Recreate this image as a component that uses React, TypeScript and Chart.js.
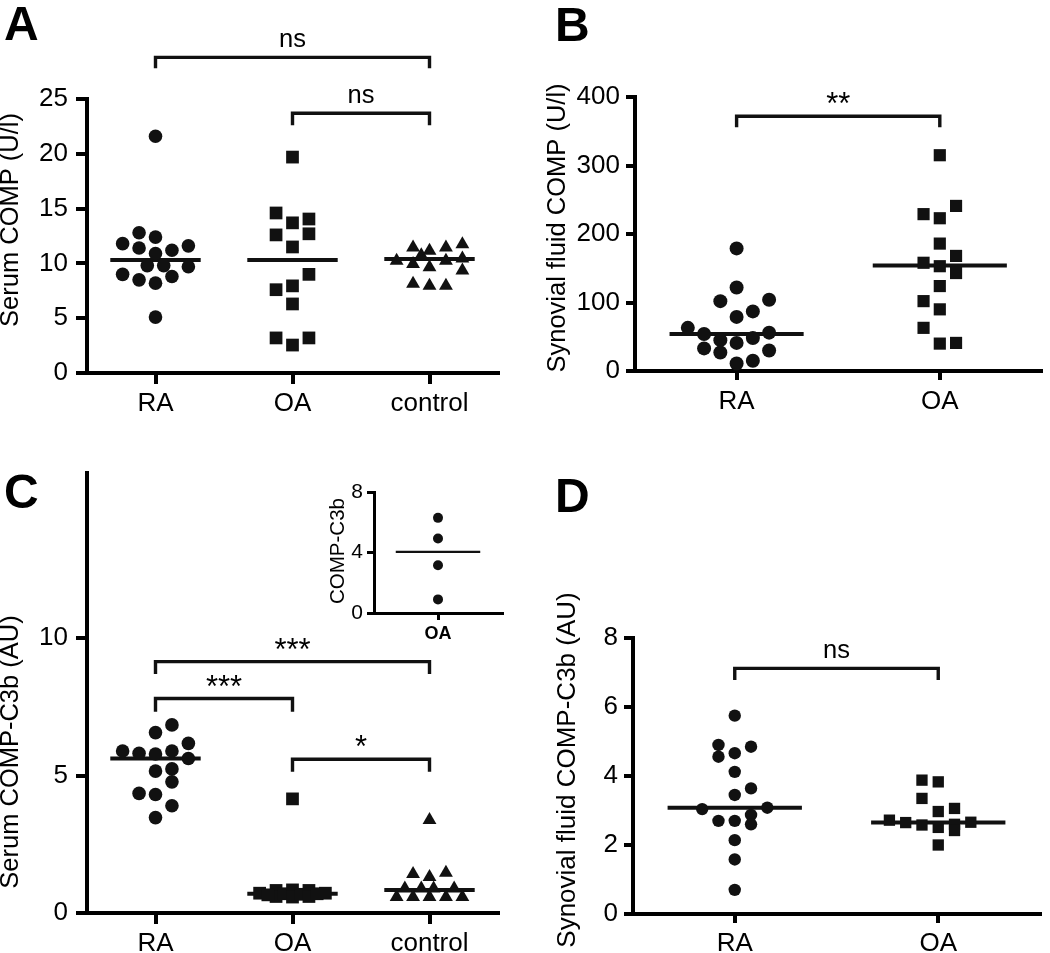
import React, { useEffect, useRef } from 'react';
import { Chart, registerables } from 'chart.js';

Chart.register(...registerables);

const FONT = '"Liberation Sans", Arial, Helvetica, sans-serif';
const INK = '#111';

// ---------------- Panel A: Serum COMP (U/l)
const catsA = ['RA', 'OA', 'control'];
const aRaVals = [21.6, 12.8, 12.4, 11.8, 11.6, 11.4, 11.2, 10.9, 9.8, 9.8, 9.7, 9.0, 8.5, 8.8, 8.2, 5.1];
const aRaSlots = [0, -1, 0, -2, 2, -1, 1, 0, -0.5, 0.5, 2, -2, -1, 1, 0, 0];
const aOaVals = [19.7, 14.6, 14.05, 13.7, 12.6, 12.7, 11.5, 9.0, 7.95, 7.6, 6.3, 3.2, 3.2, 2.55];
const aOaSlots = [0, -1, 1, 0, -1, 1, 0, 1, 0, -1, 0, -1, 1, 0];
const aCtrlVals = [10.25, 11.45, 10.75, 11.15, 9.95, 9.65, 11.45, 10.25, 11.75, 10.45, 9.35, 8.15, 7.95, 7.95];
const aCtrlSlots = [-2, -1, -0.5, 0, -1, 0, 1, 1, 2, 2, 2, -1, 0, 1];
const aMedians = [10.3, 10.3, 10.4];
const aTicks = [0, 5, 10, 15, 20, 25];
const aBrackets = [
  { from: 0, to: 2, y: 28.8, leg: 1.0, label: 'ns' },
  { from: 1, to: 2, y: 23.7, leg: 1.1, label: 'ns' },
];

// ---------------- Panel B: Synovial fluid COMP (U/l)
const catsB = ['RA', 'OA'];
const bRaVals = [179, 122, 102, 104, 87, 79, 63, 54, 56, 45, 41, 48, 33, 30, 27, 15, 11];
const bRaSlots = [0, 0, -1, 2, 1, 0, -3, -2, 2, -1, 0, 1, -2, 2, -1, 1, 0];
const bOaVals = [315, 241, 229, 223, 186, 168, 158, 153, 143, 124, 102, 90, 63, 40, 41];
const bOaSlots = [0, 1, -1, 0, 0, 1, -1, 0, 1, 0, -1, 0, -1, 0, 1];
const bMedians = [54, 154];
const bTicks = [0, 100, 200, 300, 400];
const bBrackets = [{ from: 0, to: 1, y: 372, leg: 16, label: '**' }];

// ---------------- Panel C: Serum COMP-C3b (AU)
const catsC = ['RA', 'OA', 'control'];
const cRaVals = [6.84, 6.56, 6.17, 5.89, 5.81, 5.78, 5.89, 5.62, 5.16, 5.24, 4.77, 4.35, 4.31, 3.9, 3.47];
const cRaSlots = [1, 0, 2, -2, -1, 0, 1, 2, 0, 1, 1, -1, 0, 1, 0];
const cOaVals = [4.15, 0.72, 0.82, 0.6, 0.7, 0.84, 0.58, 0.68, 0.82, 0.6, 0.7, 0.72, 0.66];
const cOaSlots = [0, -2, -1, -1, -0.5, 0, 0, 0.5, 1, 1, 1.5, 2, -1.5];
const cCtrlVals = [3.38, 1.42, 1.31, 1.46, 0.89, 0.89, 0.89, 0.89, 0.58, 0.58, 0.58, 0.58, 0.58];
const cCtrlSlots = [0, -1, 0, 1, -1.5, -0.5, 0.25, 1.5, -2, -1, 0, 1, 2];
const cMedians = [5.62, 0.7, 0.84];
const cTicks = [0, 5, 10];
const cBrackets = [
  { from: 0, to: 2, y: 9.14, leg: 0.45, label: '***' },
  { from: 0, to: 1, y: 7.8, leg: 0.48, label: '***' },
  { from: 1, to: 2, y: 5.59, leg: 0.45, label: '*' },
];

// ---------------- Inset: COMP-C3b, OA
const catsI = ['OA'];
const iOaVals = [6.29, 4.93, 3.16, 0.9];
const iOaSlots = [0, 0, 0, 0];
const iMedians = [4.04];
const iTicks = [0, 4, 8];

// ---------------- Panel D: Synovial fluid COMP-C3b (AU)
const catsD = ['RA', 'OA'];
const dRaVals = [5.75, 4.9, 4.85, 4.56, 4.66, 4.12, 3.64, 3.45, 3.04, 3.08, 2.7, 2.7, 2.87, 2.6, 2.14, 1.58, 0.7];
const dRaSlots = [0, -1, 1, -1, 0, 0, 1, 0, -2, 2, -1, 0, 1, 1, 0, 0, 0];
const dOaVals = [3.88, 3.83, 3.35, 3.06, 2.97, 2.72, 2.65, 2.58, 2.51, 2.6, 2.42, 2.66, 2.0];
const dOaSlots = [-1, 0, -1, 1, 0, -3, -2, -1, 0, 1, 1, 2, 0];
const dMedians = [3.08, 2.65];
const dTicks = [0, 2, 4, 6, 8];
const dBrackets = [{ from: 0, to: 1, y: 7.12, leg: 0.34, label: 'ns' }];

type Shape = 'circle' | 'rect' | 'triangle';
type Group = { cat: number; vals: number[]; slots: number[]; style: Shape; median: number };
type Bracket = { from: number; to: number; y: number; leg: number; label: string };
type Spec = {
  cats: string[];
  groups: Group[];
  brackets: Bracket[];
  yMax: number;
  yTicks: number[];
  area: [number, number, number, number];
  step: number;
  radius: Record<Shape, number>;
  tickLen: number;
  yTickPad: number;
  xTickPad: number;
  axisW: number;
  medianW: number;
  bracketW: number;
  tickFont: number;
  xTickFont: number;
  xTickBold?: boolean;
  title: string;
  titleX: number;
  titleY: number;
  titleFont: number;
  letter?: string;
  letterX?: number;
  letterY?: number;
};

const SPECS: Spec[] = [
  {
    cats: catsA,
    groups: [
      { cat: 0, vals: aRaVals, slots: aRaSlots, style: 'circle', median: aMedians[0] },
      { cat: 1, vals: aOaVals, slots: aOaSlots, style: 'rect', median: aMedians[1] },
      { cat: 2, vals: aCtrlVals, slots: aCtrlSlots, style: 'triangle', median: aMedians[2] },
    ],
    brackets: aBrackets,
    yMax: 25,
    yTicks: aTicks,
    area: [87, 99, 498, 373],
    step: 0.12,
    radius: { circle: 6.8, rect: 9, triangle: 8 },
    tickLen: 11, yTickPad: 8, xTickPad: 4,
    axisW: 4, medianW: 4, bracketW: 3.4,
    tickFont: 26, xTickFont: 26,
    title: 'Serum COMP (U/l)', titleX: 11, titleY: 220, titleFont: 25.5,
    letter: 'A', letterX: 4, letterY: 40,
  },
  {
    cats: catsB,
    groups: [
      { cat: 0, vals: bRaVals, slots: bRaSlots, style: 'circle', median: bMedians[0] },
      { cat: 1, vals: bOaVals, slots: bOaSlots, style: 'rect', median: bMedians[1] },
    ],
    brackets: bBrackets,
    yMax: 400,
    yTicks: bTicks,
    area: [635, 97, 1042, 371],
    step: 0.08,
    radius: { circle: 7, rect: 8.6, triangle: 7.8 },
    tickLen: 9, yTickPad: 6, xTickPad: 6,
    axisW: 4, medianW: 4, bracketW: 3.4,
    tickFont: 26, xTickFont: 26,
    title: 'Synovial fluid COMP (U/l)', titleX: 558, titleY: 228, titleFont: 25.5,
    letter: 'B', letterX: 555, letterY: 41,
  },
  {
    cats: catsC,
    groups: [
      { cat: 0, vals: cRaVals, slots: cRaSlots, style: 'circle', median: cMedians[0] },
      { cat: 1, vals: cOaVals, slots: cOaSlots, style: 'rect', median: cMedians[1] },
      { cat: 2, vals: cCtrlVals, slots: cCtrlSlots, style: 'triangle', median: cMedians[2] },
    ],
    brackets: cBrackets,
    yMax: 16,
    yTicks: cTicks,
    area: [87, 473, 498, 913],
    step: 0.12,
    radius: { circle: 6.8, rect: 9, triangle: 8 },
    tickLen: 11, yTickPad: 8, xTickPad: 4,
    axisW: 4, medianW: 4, bracketW: 3.4,
    tickFont: 26, xTickFont: 26,
    title: 'Serum COMP-C3b (AU)', titleX: 11, titleY: 752, titleFont: 25.5,
    letter: 'C', letterX: 4, letterY: 508,
  },
  {
    cats: catsD,
    groups: [
      { cat: 0, vals: dRaVals, slots: dRaSlots, style: 'circle', median: dMedians[0] },
      { cat: 1, vals: dOaVals, slots: dOaSlots, style: 'rect', median: dMedians[1] },
    ],
    brackets: dBrackets,
    yMax: 8,
    yTicks: dTicks,
    area: [633, 638, 1040, 914],
    step: 0.08,
    radius: { circle: 6.2, rect: 8, triangle: 7.8 },
    tickLen: 9, yTickPad: 6, xTickPad: 5,
    axisW: 4, medianW: 4, bracketW: 3.4,
    tickFont: 26, xTickFont: 26,
    title: 'Synovial fluid COMP-C3b (AU)', titleX: 568, titleY: 770, titleFont: 26,
    letter: 'D', letterX: 555, letterY: 512,
  },
  {
    cats: catsI,
    groups: [{ cat: 0, vals: iOaVals, slots: iOaSlots, style: 'circle', median: iMedians[0] }],
    brackets: [],
    yMax: 8,
    yTicks: iTicks,
    area: [374, 492, 502, 613],
    step: 0,
    radius: { circle: 5, rect: 6, triangle: 6 },
    tickLen: 7, yTickPad: 4, xTickPad: 3,
    axisW: 3, medianW: 2.4, bracketW: 2,
    tickFont: 21, xTickFont: 18, xTickBold: true,
    title: 'COMP-C3b', titleX: 338, titleY: 551, titleFont: 20.5,
  },
];

const W = 1050;
const H = 953;

function buildConfig(s: Spec): any {
  const [L, T, R, B] = s.area;
  const YW = Math.min(L - 2, 100);
  const XH = Math.min(H - B - 2, 40);
  const datasets: any[] = [];
  s.groups.forEach((g) => {
    datasets.push({
      data: g.vals.map((v, i) => ({ x: g.cat + g.slots[i] * s.step, y: v })),
      pointStyle: g.style,
      pointRadius: s.radius[g.style],
      pointHoverRadius: s.radius[g.style],
      backgroundColor: INK,
      borderColor: INK,
      borderWidth: 0,
      showLine: false,
      clip: false,
    });
    datasets.push({
      data: [
        { x: g.cat - 0.33, y: g.median },
        { x: g.cat + 0.33, y: g.median },
      ],
      showLine: true,
      borderColor: INK,
      borderWidth: s.medianW,
      borderCapStyle: 'butt',
      pointRadius: 0,
      clip: false,
    });
  });
  s.brackets.forEach((b) => {
    datasets.push({
      data: [
        { x: b.from, y: b.y - b.leg },
        { x: b.from, y: b.y },
        { x: b.to, y: b.y },
        { x: b.to, y: b.y - b.leg },
      ],
      showLine: true,
      borderColor: INK,
      borderWidth: s.bracketW,
      borderCapStyle: 'butt',
      borderJoinStyle: 'miter',
      pointRadius: 0,
      clip: false,
    });
  });

  const overlay = {
    id: 'overlay' + (s.letter || 'inset'),
    afterDraw(chart: any) {
      const ctx = chart.ctx;
      const xs = chart.scales.x;
      const ys = chart.scales.y;
      ctx.save();
      ctx.fillStyle = '#000';
      s.brackets.forEach((b) => {
        const star = b.label.includes('*');
        ctx.font = `${star ? 31 : 25.5}px ${FONT}`;
        ctx.textAlign = 'center';
        ctx.textBaseline = 'alphabetic';
        const x = (xs.getPixelForValue(b.from) + xs.getPixelForValue(b.to)) / 2;
        const y = ys.getPixelForValue(b.y) - (star ? 2 : 10);
        ctx.fillText(b.label, x, y);
      });
      ctx.save();
      ctx.translate(s.titleX, s.titleY);
      ctx.rotate(-Math.PI / 2);
      ctx.font = `${s.titleFont}px ${FONT}`;
      ctx.textAlign = 'center';
      ctx.textBaseline = 'middle';
      ctx.fillText(s.title, 0, 0);
      ctx.restore();
      if (s.letter) {
        ctx.font = `bold 48px ${FONT}`;
        ctx.textAlign = 'left';
        ctx.textBaseline = 'alphabetic';
        ctx.fillText(s.letter, s.letterX, s.letterY);
      }
      ctx.restore();
    },
  };

  const grid = {
    display: true,
    drawOnChartArea: false,
    drawTicks: true,
    tickLength: s.tickLen,
    lineWidth: s.axisW,
    tickWidth: s.axisW,
    color: '#000',
    tickColor: '#000',
  };

  return {
    type: 'scatter',
    data: { datasets },
    options: {
      responsive: false,
      maintainAspectRatio: false,
      animation: false,
      devicePixelRatio: 1,
      events: [],
      layout: {
        padding: { left: L - YW, top: T, right: W - R, bottom: H - B - XH },
      },
      plugins: { legend: { display: false }, tooltip: { enabled: false }, title: { display: false } },
      scales: {
        x: {
          type: 'linear',
          min: -0.5,
          max: s.cats.length - 0.5,
          clip: false,
          afterBuildTicks: (sc: any) => {
            sc.ticks = s.cats.map((_, i) => ({ value: i }));
          },
          afterFit: (sc: any) => {
            sc.height = XH;
          },
          ticks: {
            autoSkip: false,
            maxRotation: 0,
            padding: s.xTickPad,
            color: '#000',
            font: { family: FONT, size: s.xTickFont, weight: s.xTickBold ? 'bold' : 'normal' },
            callback: (v: any) => s.cats[Math.round(Number(v))] ?? '',
          },
          grid,
          border: { display: true, width: s.axisW, color: '#000' },
        },
        y: {
          type: 'linear',
          min: 0,
          max: s.yMax,
          clip: false,
          afterBuildTicks: (sc: any) => {
            sc.ticks = s.yTicks.map((v) => ({ value: v }));
          },
          afterFit: (sc: any) => {
            sc.width = YW;
          },
          ticks: {
            padding: s.yTickPad,
            color: '#000',
            font: { family: FONT, size: s.tickFont },
            callback: (v: any) => String(v),
          },
          grid,
          border: { display: true, width: s.axisW, color: '#000' },
        },
      },
    },
    plugins: [overlay],
  };
}

function Panel({ spec }: { spec: Spec }) {
  const ref = useRef<HTMLCanvasElement>(null);
  useEffect(() => {
    if (!ref.current) return;
    const chart = new Chart(ref.current, buildConfig(spec));
    return () => chart.destroy();
  }, [spec]);
  return (
    <canvas
      ref={ref}
      width={W}
      height={H}
      style={{ position: 'absolute', left: 0, top: 0, width: W, height: H, pointerEvents: 'none' }}
    />
  );
}

export default function App() {
  return (
    <div
      style={{
        position: 'fixed',
        left: 0,
        top: 0,
        width: W,
        height: H,
        background: '#fff',
        overflow: 'hidden',
      }}
    >
      {SPECS.map((s, i) => (
        <Panel key={i} spec={s} />
      ))}
    </div>
  );
}
